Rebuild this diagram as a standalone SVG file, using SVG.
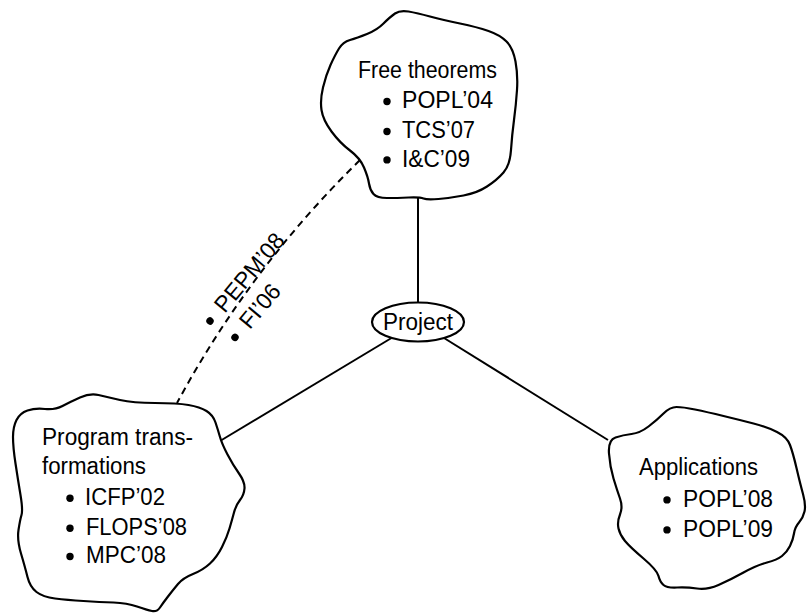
<svg xmlns="http://www.w3.org/2000/svg" width="808" height="615" viewBox="0 0 808 615">
  <style>
    .blob { fill: #ffffff; stroke: #000000; stroke-width: 2.2; stroke-linejoin: round; }
    .edge { fill: none; stroke: #000000; stroke-width: 2; }
    .dash { fill: none; stroke: #000000; stroke-width: 2; stroke-dasharray: 7 5; }
    .lbl { font-family: "Liberation Sans", Arial, sans-serif; font-size: 23px; fill: #000000; }
    .dot { fill: #000000; }
  </style>

  <!-- connectors -->
  <g id="connectors">
    <line class="edge" x1="418" y1="198" x2="418" y2="302.5"/>
    <line class="edge" x1="391.5" y1="338" x2="220" y2="441"/>
    <line class="edge" x1="444" y1="338" x2="608" y2="440"/>
    <path class="dash" d="M 360,160 Q 250,267.7 177,403"/>
    <g transform="translate(210,321) rotate(-50)">
      <circle class="dot" cx="0" cy="0" r="3.7"/>
      <text class="lbl" x="15" y="6.8" textLength="95" lengthAdjust="spacingAndGlyphs">PEPM’08</text>
    </g>
    <g transform="translate(235,337.3) rotate(-50)">
      <circle class="dot" cx="0" cy="0" r="3.7"/>
      <text class="lbl" x="15" y="6.8" textLength="50" lengthAdjust="spacingAndGlyphs">FI’06</text>
    </g>
  </g>

  <!-- Free theorems -->
  <g id="node-free">
    <path class="blob" d="M 395,13.5 Q 400,10 408.5,11.5 Q 417,13 430,16.5 Q 443,20 460,23.5 Q 477,27 488.5,31 Q 500,35 506.5,41.5 Q 513,48 515.5,61.5 Q 518,75 517,90 Q 516,105 514,120 Q 512,135 511,150 Q 510,165 503.5,172.5 Q 497,180 487,186.5 Q 477,193 463.5,195.5 Q 450,198 438.5,199 Q 427,200 423.5,198.5 Q 420,197 408.5,197.5 Q 397,198 387,198 Q 377,198 373.5,194 Q 370,190 369,183.5 Q 368,177 364,167.5 Q 360,158 350,150.5 Q 340,143 331.5,131.5 Q 323,120 321.5,110 Q 320,100 323,87.5 Q 326,75 330.5,65 Q 335,55 339,48.5 Q 343,42 350,40 Q 357,38 367,34 Q 377,30 383.5,23.5 Q 390,17 395,13.5 Z"/>
    <text class="lbl" x="358" y="78" textLength="139" lengthAdjust="spacingAndGlyphs">Free theorems</text>
    <circle class="dot" cx="387" cy="101.5" r="3.7"/>
    <text class="lbl" x="402" y="108.3" textLength="91" lengthAdjust="spacingAndGlyphs">POPL’04</text>
    <circle class="dot" cx="387" cy="131.5" r="3.7"/>
    <text class="lbl" x="402" y="138.3" textLength="73" lengthAdjust="spacingAndGlyphs">TCS’07</text>
    <circle class="dot" cx="387" cy="159.9" r="3.7"/>
    <text class="lbl" x="402" y="166.7" textLength="68" lengthAdjust="spacingAndGlyphs">I&amp;C’09</text>
  </g>

  <!-- Program transformations -->
  <g id="node-program">
    <path class="blob" d="M 16.5,420 Q 20,413 27.5,410.5 Q 35,408 45,409 Q 55,410 62.5,406 Q 70,402 80,397.5 Q 90,393 98.5,395 Q 107,397 120,400 Q 133,403 155,403 Q 177,403 188.5,405 Q 200,407 206.5,411 Q 213,415 215.5,422.5 Q 218,430 220,437 Q 222,444 227.5,454.5 Q 233,465 239,473.5 Q 245,482 244.5,488.5 Q 244,495 240,500 Q 236,505 234,512.5 Q 232,520 229.5,528.5 Q 227,537 222,547 Q 217,557 210,563.5 Q 203,570 193,574 Q 183,578 178,584 Q 173,590 168,596.5 Q 163,603 160,607.5 Q 157,612 152,611 Q 147,610 137,606.5 Q 127,603 113.5,602.5 Q 100,602 83.5,601 Q 67,600 55,598.5 Q 43,597 36.5,592 Q 30,587 27.5,577 Q 25,567 21,553.5 Q 17,540 18.5,530 Q 20,520 21.5,515 Q 23,510 20.5,495 Q 18,480 15.5,463.5 Q 13,447 13,437 Q 13,427 16.5,420 Z"/>
    <text class="lbl" x="42" y="445" textLength="151" lengthAdjust="spacingAndGlyphs">Program trans-</text>
    <text class="lbl" x="42" y="473.5" textLength="104" lengthAdjust="spacingAndGlyphs">formations</text>
    <circle class="dot" cx="70" cy="498.2" r="3.7"/>
    <text class="lbl" x="85" y="505" textLength="80" lengthAdjust="spacingAndGlyphs">ICFP’02</text>
    <circle class="dot" cx="70" cy="528.2" r="3.7"/>
    <text class="lbl" x="86" y="535" textLength="101" lengthAdjust="spacingAndGlyphs">FLOPS’08</text>
    <circle class="dot" cx="70" cy="556.5" r="3.7"/>
    <text class="lbl" x="86" y="563.3" textLength="80" lengthAdjust="spacingAndGlyphs">MPC’08</text>
  </g>

  <!-- Applications -->
  <g id="node-apps">
    <path class="blob" d="M 615.5,437.5 Q 623,435 631.5,434 Q 640,433 648.5,426.5 Q 657,420 663.5,413.5 Q 670,407 676.5,407 Q 683,407 695,409.5 Q 707,412 723.5,416 Q 740,420 753.5,423.5 Q 767,427 777,432 Q 787,437 790,445 Q 793,453 796.5,468 Q 800,483 803,494 Q 806,505 804.5,511.5 Q 803,518 799,522.5 Q 795,527 794,533.5 Q 793,540 790,546 Q 787,552 782,556 Q 777,560 767,562.5 Q 757,565 743.5,572.5 Q 730,580 718.5,585 Q 707,590 697,588.5 Q 687,587 677,587.5 Q 667,588 663.5,585 Q 660,582 658.5,576 Q 657,570 643.5,558.5 Q 630,547 625,541 Q 620,535 618.5,528.5 Q 617,522 620,514.5 Q 623,507 620,498.5 Q 617,490 613.5,478.5 Q 610,467 609,453.5 Q 608,440 615.5,437.5 Z"/>
    <text class="lbl" x="639" y="475" textLength="119" lengthAdjust="spacingAndGlyphs">Applications</text>
    <circle class="dot" cx="667" cy="499.9" r="3.7"/>
    <text class="lbl" x="683" y="506.7" textLength="90" lengthAdjust="spacingAndGlyphs">POPL’08</text>
    <circle class="dot" cx="667" cy="529.9" r="3.7"/>
    <text class="lbl" x="683" y="536.7" textLength="90" lengthAdjust="spacingAndGlyphs">POPL’09</text>
  </g>

  <!-- Project -->
  <g id="node-project">
    <ellipse class="blob" cx="418" cy="322" rx="46" ry="19.5"/>
    <text class="lbl" x="418" y="329.5" text-anchor="middle" textLength="70" lengthAdjust="spacingAndGlyphs">Project</text>
  </g>
</svg>
